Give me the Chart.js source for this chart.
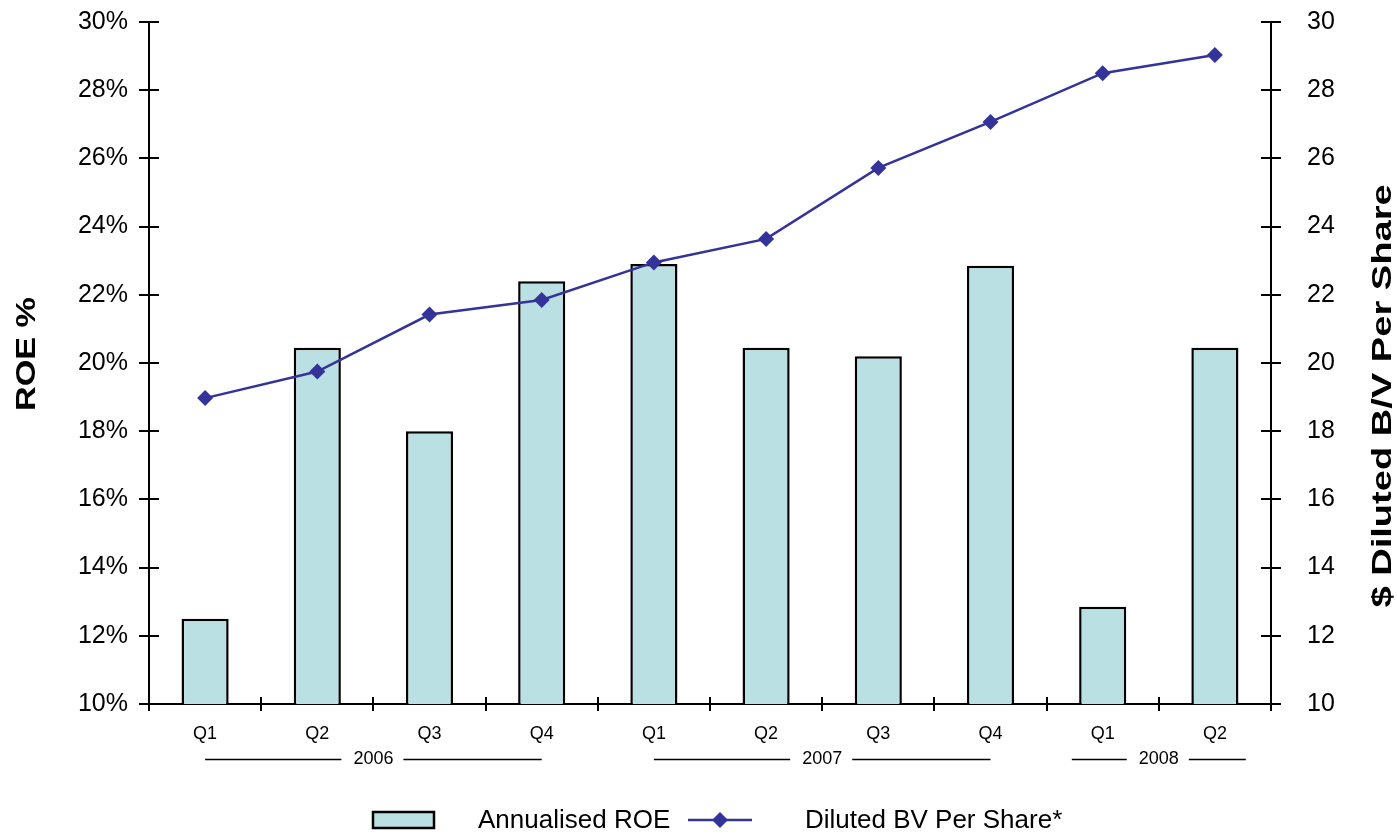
<!DOCTYPE html>
<html>
<head>
<meta charset="utf-8">
<script src="https://cdn.jsdelivr.net/npm/chart.js@4.4.1/dist/chart.umd.min.js"></script>
<style>
  html, body { margin: 0; padding: 0; background: #ffffff; }
  #wrap { width: 1397px; height: 834px; position: relative; }
  canvas { display: block; }
</style>
</head>
<body>
<div id="wrap"><canvas id="roeChart" width="1397" height="834"></canvas></div>
<script>
// Quarterly periods and the year each quarter belongs to
const quarters = ['Q1', 'Q2', 'Q3', 'Q4', 'Q1', 'Q2', 'Q3', 'Q4', 'Q1', 'Q2'];
const quarterYears = ['2006', '2006', '2006', '2006', '2007', '2007', '2007', '2007', '2008', '2008'];

// Annualised return on equity, percent
const roePct = [12.5, 20.45, 18.0, 22.4, 22.9, 20.45, 20.2, 22.85, 12.85, 20.45];
// Diluted book value per share, dollars
const dilutedBv = [18.97, 19.75, 21.42, 21.85, 22.95, 23.64, 25.72, 27.07, 28.5, 29.03];

// Shared axis range for both value axes
const axisMin = 10;
const axisMax = 30;
const axisStep = 2;

const FONT = "'Liberation Sans', Arial, Helvetica, sans-serif";
const BAR_FILL = '#bbe0e3';
const LINE_COLOR = '#333399';

// Rotated title, stretched along its length
function drawVerticalTitle(ctx, text, cx, cy, stretch) {
  ctx.save();
  ctx.translate(cx, cy);
  ctx.rotate(-Math.PI / 2);
  ctx.scale(stretch, 1);
  ctx.fillText(text, 0, 0);
  ctx.restore();
}

// Draws the inner halves of the axis ticks, the year brackets under the quarters,
// the rotated axis titles and the legend.
const decorations = {
  id: 'decorations',
  afterDraw(chart) {
    const ctx = chart.ctx;
    const area = chart.chartArea;
    const xs = chart.scales.x;
    const yl = chart.scales.y;
    const yr = chart.scales.y1;
    ctx.save();
    ctx.strokeStyle = '#000';
    ctx.lineWidth = 2;

    // inner tick halves on the value axes
    yl.ticks.forEach((t, i) => {
      const py = Math.round(yl.getPixelForTick(i));
      ctx.beginPath(); ctx.moveTo(area.left, py); ctx.lineTo(area.left + 10, py); ctx.stroke();
    });
    yr.ticks.forEach((t, i) => {
      const py = Math.round(yr.getPixelForTick(i));
      ctx.beginPath(); ctx.moveTo(area.right - 10, py); ctx.lineTo(area.right, py); ctx.stroke();
    });
    // inner tick halves at category boundaries
    const n = quarters.length;
    for (let i = 1; i < n; i++) {
      const px = Math.round((xs.getPixelForValue(i - 1) + xs.getPixelForValue(i)) / 2);
      ctx.beginPath(); ctx.moveTo(px, area.bottom - 7); ctx.lineTo(px, area.bottom); ctx.stroke();
    }

    // year brackets
    const groups = [];
    quarterYears.forEach((yr, i) => {
      const g = groups[groups.length - 1];
      if (g && g.label === yr) g.last = i; else groups.push({ label: yr, first: i, last: i });
    });
    const yearY = area.bottom + 55;
    ctx.font = '18px ' + FONT;
    ctx.fillStyle = '#000';
    ctx.textAlign = 'center';
    ctx.textBaseline = 'middle';
    ctx.lineWidth = 1.4;
    groups.forEach(g => {
      let a = xs.getPixelForValue(g.first);
      let b = xs.getPixelForValue(g.last);
      const mid = (a + b) / 2;
      const half = Math.max((b - a) / 2, 87);
      a = mid - half; b = mid + half;
      const tw = ctx.measureText(g.label).width;
      ctx.fillText(g.label, mid, yearY);
      ctx.beginPath();
      ctx.moveTo(a, yearY + 0.5); ctx.lineTo(mid - tw / 2 - 12, yearY + 0.5);
      ctx.moveTo(mid + tw / 2 + 10, yearY + 0.5); ctx.lineTo(b, yearY + 0.5);
      ctx.stroke();
    });

    // axis titles
    ctx.font = 'bold 28px ' + FONT;
    ctx.textAlign = 'center';
    ctx.textBaseline = 'middle';
    drawVerticalTitle(ctx, 'ROE %', 27, 354, 1.22);
    drawVerticalTitle(ctx, '$ Diluted B/V Per Share', 1383, 396, 1.36);

    // legend
    const ly = 820;
    const bar = chart.data.datasets[0];
    const line = chart.data.datasets[1];
    ctx.fillStyle = bar.backgroundColor;
    ctx.fillRect(373, ly - 8, 61, 16);
    ctx.strokeStyle = '#000';
    ctx.lineWidth = 2.5;
    ctx.strokeRect(373, ly - 8, 61, 16);
    ctx.fillStyle = '#000';
    ctx.font = '26px ' + FONT;
    ctx.textAlign = 'left';
    ctx.fillText(bar.label, 478, ly + 1);
    ctx.strokeStyle = line.borderColor;
    ctx.lineWidth = 2.5;
    ctx.beginPath(); ctx.moveTo(688, ly); ctx.lineTo(752, ly); ctx.stroke();
    ctx.fillStyle = line.pointBackgroundColor;
    ctx.beginPath();
    ctx.moveTo(720, ly - 8); ctx.lineTo(728, ly); ctx.lineTo(720, ly + 8); ctx.lineTo(712, ly);
    ctx.closePath(); ctx.fill();
    ctx.fillStyle = '#000';
    ctx.fillText(line.label, 805, ly + 1);
    ctx.restore();
  }
};

// keep the plot frame at fixed margins: no extra room for label overflow
function fixValueAxis(width) {
  return function (scale) {
    scale.width = width;
    scale.paddingTop = 0;
    scale.paddingBottom = 0;
  };
}

new Chart(document.getElementById('roeChart'), {
  type: 'bar',
  data: {
    labels: quarters,
    datasets: [
      {
        type: 'bar',
        label: 'Annualised ROE',
        data: roePct,
        yAxisID: 'y',
        backgroundColor: BAR_FILL,
        borderColor: '#000',
        borderWidth: 2.5,
        borderSkipped: 'start',
        categoryPercentage: 1.0,
        barPercentage: 0.42,
        order: 2
      },
      {
        type: 'line',
        label: 'Diluted BV Per Share*',
        data: dilutedBv,
        yAxisID: 'y1',
        borderColor: LINE_COLOR,
        borderWidth: 2.5,
        pointStyle: 'rectRot',
        pointRadius: 8,
        pointBorderWidth: 0,
        pointBackgroundColor: LINE_COLOR,
        tension: 0,
        fill: false,
        order: 1
      }
    ]
  },
  options: {
    responsive: false,
    animation: false,
    devicePixelRatio: 1,
    layout: { padding: { top: 22, left: 0, right: 0, bottom: 0 } },
    plugins: {
      legend: { display: false },
      tooltip: { enabled: false },
      title: { display: false }
    },
    scales: {
      x: {
        offset: true,
        grid: { display: true, offset: true, drawOnChartArea: false, drawTicks: true, tickLength: 7, color: '#000', lineWidth: 2 },
        border: { display: true, color: '#000', width: 2 },
        ticks: { color: '#000', font: { family: FONT, size: 18 }, padding: 12, maxRotation: 0 },
        afterFit(scale) {
          scale.height = 130;
          scale.paddingLeft = 0;
          scale.paddingRight = 0;
        }
      },
      y: {
        position: 'left',
        min: axisMin,
        max: axisMax,
        grid: { display: true, drawOnChartArea: false, drawTicks: true, tickLength: 10, color: '#000', lineWidth: 2 },
        border: { display: true, color: '#000', width: 2 },
        ticks: { stepSize: axisStep, color: '#000', font: { family: FONT, size: 25 }, padding: 11,
                 callback: v => v + '%' },
        afterFit: fixValueAxis(149)
      },
      y1: {
        position: 'right',
        min: axisMin,
        max: axisMax,
        grid: { display: true, drawOnChartArea: false, drawTicks: true, tickLength: 10, color: '#000', lineWidth: 2 },
        border: { display: true, color: '#000', width: 2 },
        ticks: { stepSize: axisStep, color: '#000', font: { family: FONT, size: 25 }, padding: 26 },
        afterFit: fixValueAxis(126)
      }
    }
  },
  plugins: [decorations]
});
</script>
</body>
</html>
